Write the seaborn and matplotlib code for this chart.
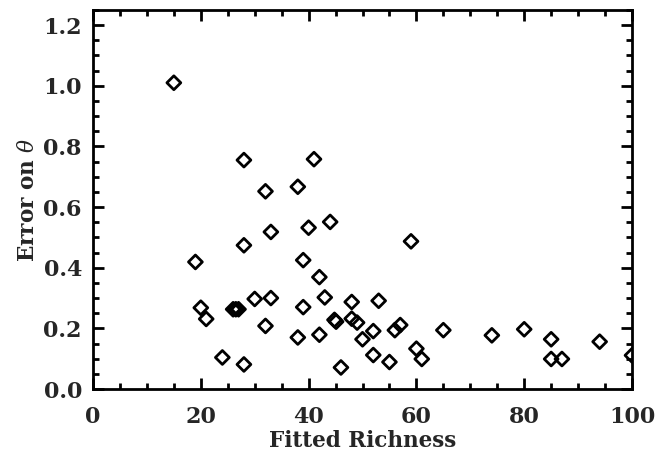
import numpy as np
import pandas as pd
import matplotlib
matplotlib.use("Agg")
import matplotlib.pyplot as plt
import seaborn as sb
from matplotlib.ticker import MultipleLocator

# Fitted richness vs error on theta
richness = [15, 28, 32, 38, 41, 33, 40, 44, 19, 28, 39, 42, 20, 21, 26, 26.5, 27,
            30, 33, 32, 39, 43, 38, 42, 24, 28, 44.8, 45.1, 48, 53, 48, 49, 52, 50,
            56, 57, 46, 52, 55, 59, 60, 61, 65, 74, 80, 85, 85, 87, 94, 100]
theta_err = [1.01, 0.755, 0.652, 0.667, 0.758, 0.518, 0.532, 0.551, 0.419, 0.474,
             0.425, 0.369, 0.268, 0.231, 0.263, 0.263, 0.263, 0.297, 0.300, 0.208,
             0.270, 0.302, 0.170, 0.179, 0.104, 0.081, 0.228, 0.222, 0.287, 0.291,
             0.232, 0.219, 0.191, 0.164, 0.194, 0.211, 0.071, 0.112, 0.089, 0.487,
             0.133, 0.099, 0.194, 0.177, 0.197, 0.164, 0.099, 0.099, 0.156, 0.111]

x_ticks = [0, 20, 40, 60, 80, 100]
y_ticks = [0.0, 0.2, 0.4, 0.6, 0.8, 1.0, 1.2]

sb.set_style("ticks")
plt.rcParams["font.family"] = ["DejaVu Serif"]
plt.rcParams["mathtext.fontset"] = "dejavuserif"

data = pd.DataFrame({"richness": richness, "err": theta_err})

fig = plt.figure(figsize=(6.66, 4.54), dpi=100)
ax = fig.add_axes([93 / 666, 1 - 389 / 454, (632 - 93) / 666, (389 - 10) / 454])

sb.scatterplot(x="richness", y="err", data=data, ax=ax, marker="D", s=50,
               facecolor="none", edgecolor="black", linewidth=2.0, legend=False)

ax.set_xlim(0, 100)
ax.set_ylim(0, 1.25)
ax.set_xticks(x_ticks)
ax.set_xticklabels([str(t) for t in x_ticks])
ax.set_yticks(y_ticks)
ax.set_yticklabels(["%.1f" % t for t in y_ticks])
ax.xaxis.set_minor_locator(MultipleLocator(5))
ax.yaxis.set_minor_locator(MultipleLocator(0.05))

for sp in ax.spines.values():
    sp.set_linewidth(2.0)
    sp.set_color("black")

ax.tick_params(which="both", direction="in", top=True, right=True, width=2.0, color="black")
ax.tick_params(which="major", length=8)
ax.tick_params(which="minor", length=4)
ax.tick_params(axis="x", which="major", pad=12, labelsize=16)
ax.tick_params(axis="y", which="major", pad=8, labelsize=16)
for lab in ax.get_xticklabels() + ax.get_yticklabels():
    lab.set_fontweight("bold")

ax.set_xlabel("Fitted Richness", fontsize=15.5, fontweight="bold", labelpad=2)
ax.set_ylabel(r"Error on $\theta$", fontsize=15.5, fontweight="bold", labelpad=3)

fig.savefig("out.png", dpi=100)
